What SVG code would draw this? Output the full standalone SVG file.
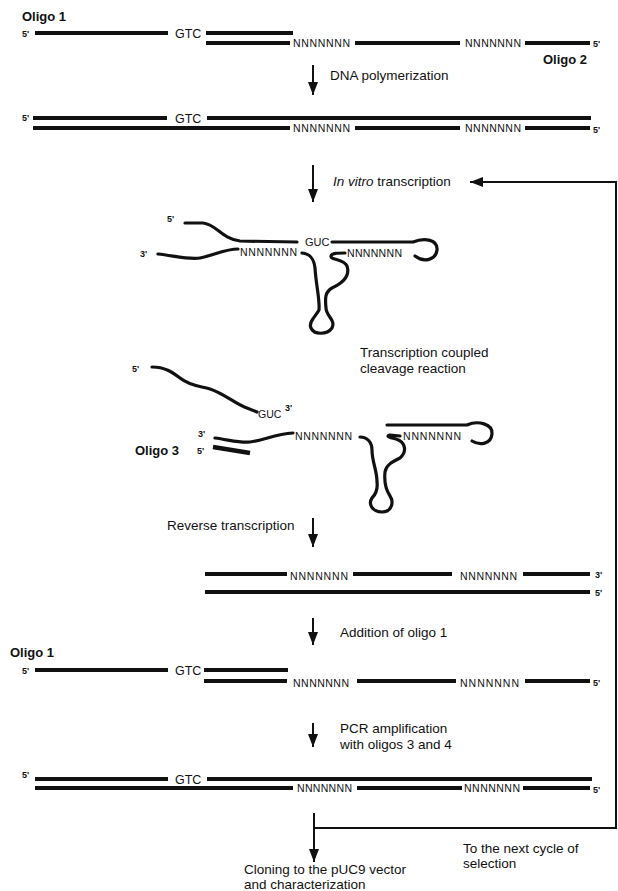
<svg xmlns="http://www.w3.org/2000/svg" width="618" height="891" viewBox="0 0 618 891">
<style>
text{font-family:"Liberation Sans",Arial,Helvetica,sans-serif;fill:#111}
.lbl{font-size:13.5px}
.olg{font-size:13px;font-weight:bold}
.end{font-size:9px;font-weight:bold}
.nn{font-size:10.5px}
.gtc{font-size:12.5px}
.gu{font-size:11px}
.s{stroke:#111;stroke-width:4;fill:none}
.r{stroke:#111;stroke-width:3.2;fill:none;stroke-linecap:round;stroke-linejoin:round}
.ar{stroke:#111;stroke-width:2;fill:none}
</style>
<defs>
<marker id="ah" viewBox="0 0 13 10" refX="13" refY="5" markerWidth="13" markerHeight="10" orient="auto" markerUnits="userSpaceOnUse">
<path d="M0,0 L13,5 L0,10 z" fill="#111"/>
</marker>
</defs>
<rect width="618" height="891" fill="#fff"/>

<g id="row1">
<text class="olg" x="22" y="21">Oligo 1</text>
<text class="end" x="22" y="37">5'</text>
<line class="s" x1="35" y1="33" x2="168" y2="33"/>
<text class="gtc" x="175" y="38">GTC</text>
<line class="s" x1="206" y1="33" x2="293" y2="33"/>
<line class="s" x1="206" y1="43" x2="290" y2="43"/>
<text class="nn" x="293" y="47" textLength="57" lengthAdjust="spacing">NNNNNNN</text>
<line class="s" x1="355" y1="43" x2="460" y2="43"/>
<text class="nn" x="465" y="47" textLength="56" lengthAdjust="spacing">NNNNNNN</text>
<line class="s" x1="525" y1="43" x2="590" y2="43"/>
<text class="end" x="593" y="47">5'</text>
<text class="olg" x="543" y="64">Oligo 2</text>
</g>

<g id="row2">
<text class="end" x="22" y="121">5'</text>
<line class="s" x1="33" y1="118" x2="167" y2="118"/>
<text class="gtc" x="175" y="123">GTC</text>
<line class="s" x1="207" y1="118" x2="591" y2="118"/>
<line class="s" x1="33" y1="128" x2="290" y2="128"/>
<text class="nn" x="293" y="132" textLength="57" lengthAdjust="spacing">NNNNNNN</text>
<line class="s" x1="355" y1="128" x2="460" y2="128"/>
<text class="nn" x="465" y="132" textLength="56" lengthAdjust="spacing">NNNNNNN</text>
<line class="s" x1="525" y1="128" x2="590" y2="128"/>
<text class="end" x="593" y="133">5'</text>
</g>

<g id="rna-folded">
<text class="end" x="167" y="222">5'</text>
<text class="end" x="140" y="257">3'</text>
<path class="r" d="M185,223 L203,223 C216,224 222,239 240,241 L297,242"/>
<text class="gu" x="305" y="246">GUC</text>
<path class="r" d="M332,242 L413,242 C425,237 438,240 437,250 C436,260 424,263 415,256"/>
<path class="r" d="M158,254 C175,256 190,260 200,258 C215,255 225,249 238,249"/>
<text class="nn" x="240" y="256" textLength="57" lengthAdjust="spacing">NNNNNNN</text>
<path class="r" d="M302,253 C310,254 314,258 315,268 C316,285 320,300 319,310 C316,316 308,322 311,328 C314,335 327,335 332,328 C336,320 326,316 326,308 C325,298 325,292 332,288 C345,282 350,275 347,266 C344,259 330,260 331,256 C332,253 338,253 345,253"/>
<text class="nn" x="347" y="257" textLength="55" lengthAdjust="spacing">NNNNNNN</text>
</g>

<g id="cleavage-label">
<text class="lbl" x="360" y="357">Transcription coupled</text>
<text class="lbl" x="360" y="373">cleavage reaction</text>
</g>

<g id="fragment-5">
<text class="end" x="132" y="372">5'</text>
<path class="r" d="M152,367 C165,367 172,372 180,378 C190,386 200,386 210,389 C225,394 235,404 247,408 L257,412"/>
<text class="gu" x="258" y="418" style="font-size:10.5px">GUC</text>
<text class="end" x="285" y="411">3'</text>
</g>

<g id="fragment-3">
<text class="end" x="198" y="437">3'</text>
<text class="olg" x="135" y="455">Oligo 3</text>
<text class="end" x="197" y="454">5'</text>
<path class="r" d="M215,438 C230,440 240,443 250,442 C265,440 275,434 293,433"/>
<text class="nn" x="295" y="440" textLength="57" lengthAdjust="spacing">NNNNNNN</text>
<line x1="213" y1="447" x2="250" y2="453" stroke="#111" stroke-width="4.5"/>
<path class="r" d="M360,437 C367,437 372,442 372,450 C372,462 377,470 377,482 C378,490 376,494 372,498 C368,504 372,512 382,512 C392,512 394,502 390,496 C386,490 384,482 385,472 C386,465 392,462 400,458 C407,452 406,442 396,439 C388,437 386,436 390,435 L400,436"/>
<text class="nn" x="403" y="440" textLength="58" lengthAdjust="spacing">NNNNNNN</text>
<path class="r" d="M387,425 L467,425 C478,420 493,424 492,434 C491,444 480,446 472,441"/>
</g>

<g id="row-rt">
<line class="s" x1="205" y1="574" x2="287" y2="574"/>
<text class="nn" x="290" y="580" textLength="58" lengthAdjust="spacing">NNNNNNN</text>
<line class="s" x1="353" y1="574" x2="452" y2="574"/>
<text class="nn" x="460" y="580" textLength="57" lengthAdjust="spacing">NNNNNNN</text>
<line class="s" x1="523" y1="574" x2="590" y2="574"/>
<text class="end" x="595" y="578">3'</text>
<line class="s" x1="205" y1="592" x2="590" y2="592"/>
<text class="end" x="595" y="596">5'</text>
</g>

<g id="row5">
<text class="olg" x="10" y="657">Oligo 1</text>
<text class="end" x="22" y="674">5'</text>
<line class="s" x1="35" y1="670" x2="168" y2="670"/>
<text class="gtc" x="175" y="675">GTC</text>
<line class="s" x1="204" y1="670" x2="288" y2="670"/>
<line class="s" x1="204" y1="681" x2="287" y2="681"/>
<text class="nn" x="293" y="687" textLength="56" lengthAdjust="spacing">NNNNNNN</text>
<line class="s" x1="357" y1="681" x2="456" y2="681"/>
<text class="nn" x="460" y="687" textLength="59" lengthAdjust="spacing">NNNNNNN</text>
<line class="s" x1="525" y1="681" x2="590" y2="681"/>
<text class="end" x="593" y="686">5'</text>
</g>

<g id="row6">
<text class="end" x="22" y="778">5'</text>
<line class="s" x1="35" y1="779" x2="168" y2="779"/>
<text class="gtc" x="175" y="784">GTC</text>
<line class="s" x1="207" y1="779" x2="592" y2="779"/>
<line class="s" x1="35" y1="788" x2="293" y2="788"/>
<text class="nn" x="297" y="792" textLength="55" lengthAdjust="spacing">NNNNNNN</text>
<line class="s" x1="357" y1="788" x2="462" y2="788"/>
<text class="nn" x="464" y="792" textLength="56" lengthAdjust="spacing">NNNNNNN</text>
<line class="s" x1="523" y1="788" x2="590" y2="788"/>
<text class="end" x="593" y="793">5'</text>
</g>

<g id="step-labels">
<text class="lbl" x="330" y="80">DNA polymerization</text>
<text class="lbl" x="333" y="186"><tspan font-style="italic">In vitro</tspan> transcription</text>
<text class="lbl" x="167" y="530">Reverse transcription</text>
<text class="lbl" x="340" y="637">Addition of oligo 1</text>
<text class="lbl" x="340" y="733">PCR amplification</text>
<text class="lbl" x="340" y="749">with oligos 3 and 4</text>
<text class="lbl" x="463" y="853">To the next cycle of</text>
<text class="lbl" x="463" y="868">selection</text>
<text class="lbl" x="244" y="874">Cloning to the pUC9 vector</text>
<text class="lbl" x="244" y="889">and characterization</text>
</g>

<g id="connectors">
<line class="ar" x1="313" y1="65" x2="313" y2="95" marker-end="url(#ah)"/>
<line class="ar" x1="313" y1="165" x2="313" y2="202" marker-end="url(#ah)"/>
<line class="ar" x1="313" y1="518" x2="313" y2="547" marker-end="url(#ah)"/>
<line class="ar" x1="313" y1="618" x2="313" y2="645" marker-end="url(#ah)"/>
<line class="ar" x1="313" y1="723" x2="313" y2="747" marker-end="url(#ah)"/>
<line class="ar" x1="314" y1="813" x2="314" y2="862" marker-end="url(#ah)"/>
<path class="ar" d="M314,828 H616 V182 H470" marker-end="url(#ah)"/>
</g>
</svg>
